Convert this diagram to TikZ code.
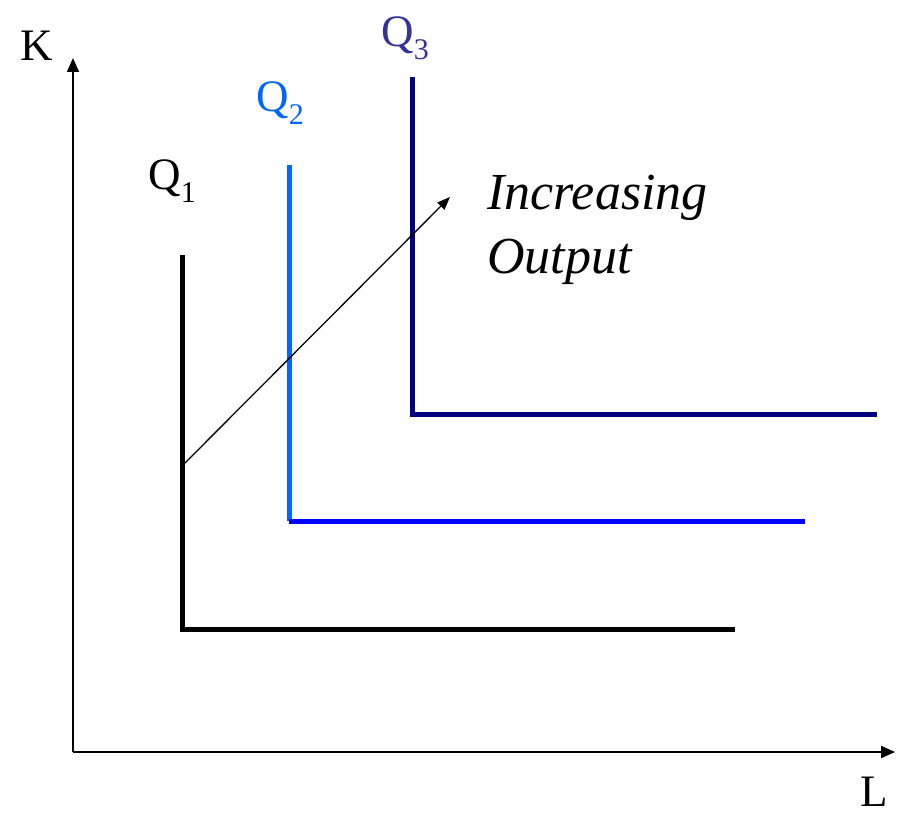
\documentclass[tikz,border=0pt]{standalone}
\usepackage{fontspec}
\setmainfont{Liberation Serif}
\usetikzlibrary{arrows.meta}
\definecolor{qone}{RGB}{0,0,0}
\definecolor{qtwov}{RGB}{0,102,255}
\definecolor{qtwoh}{RGB}{0,0,255}
\definecolor{qthree}{RGB}{0,0,128}
\definecolor{qthreelab}{RGB}{51,51,153}
\begin{document}
\begin{tikzpicture}[x=1pt,y=-1pt,
  axis/.style={line width=1.8pt,-{Triangle[length=14pt,width=12pt]}},
  iso/.style={line width=5pt},
  lab/.style={inner sep=0pt,font=\fontsize{45}{48}\selectfont},
  ilab/.style={inner sep=0pt,align=left,anchor=base west,font=\fontsize{52}{64}\selectfont\itshape}]
\useasboundingbox (0,0) rectangle (897,816);
\coordinate (O) at (73,752);
\coordinate (Ktip) at (73,58);
\coordinate (Ltip) at (895,752);
\draw[axis] (O) -- (Ktip);
\draw[axis] (O) -- (Ltip);
\node[lab] (K) at (37,46) {K};
\node[lab,anchor=base] (L) at (874,806) {L};
% Q1
\coordinate (q1t) at (182,255);
\coordinate (q1c) at (182,629);
\coordinate (q1r) at (735,629);
\draw[iso,qone] (q1t) -- (q1c) -- (q1r);
% Q2
\coordinate (q2t) at (289,165);
\coordinate (q2c) at (289,521);
\coordinate (q2r) at (805,521);
\draw[iso,qtwov] (q2t) -- (q2c);
\draw[iso,qtwoh] (q2c) -- (q2r);
% Q3
\coordinate (q3t) at (412,77);
\coordinate (q3c) at (412,414);
\coordinate (q3r) at (877,414);
\draw[iso,qthree] (q3t) -- (q3c) -- (q3r);
\node[lab,qone] (Q1) at (172,181) {Q\raisebox{-0.3em}{\fontsize{30}{30}\selectfont 1}};
\node[lab,qtwov] (Q2) at (280,103) {Q\raisebox{-0.3em}{\fontsize{30}{30}\selectfont 2}};
\node[lab,qthreelab] (Q3) at (405,38) {Q\raisebox{-0.3em}{\fontsize{30}{30}\selectfont 3}};
% arrow
\coordinate (as) at (182,466);
\coordinate (ae) at (450,197);
\draw[line width=1.3pt,-{Triangle[length=13pt,width=10pt]}] (as) -- (ae);
\node[ilab] (inc) at (487,273) {Increasing\\Output};
\end{tikzpicture}
\end{document}
